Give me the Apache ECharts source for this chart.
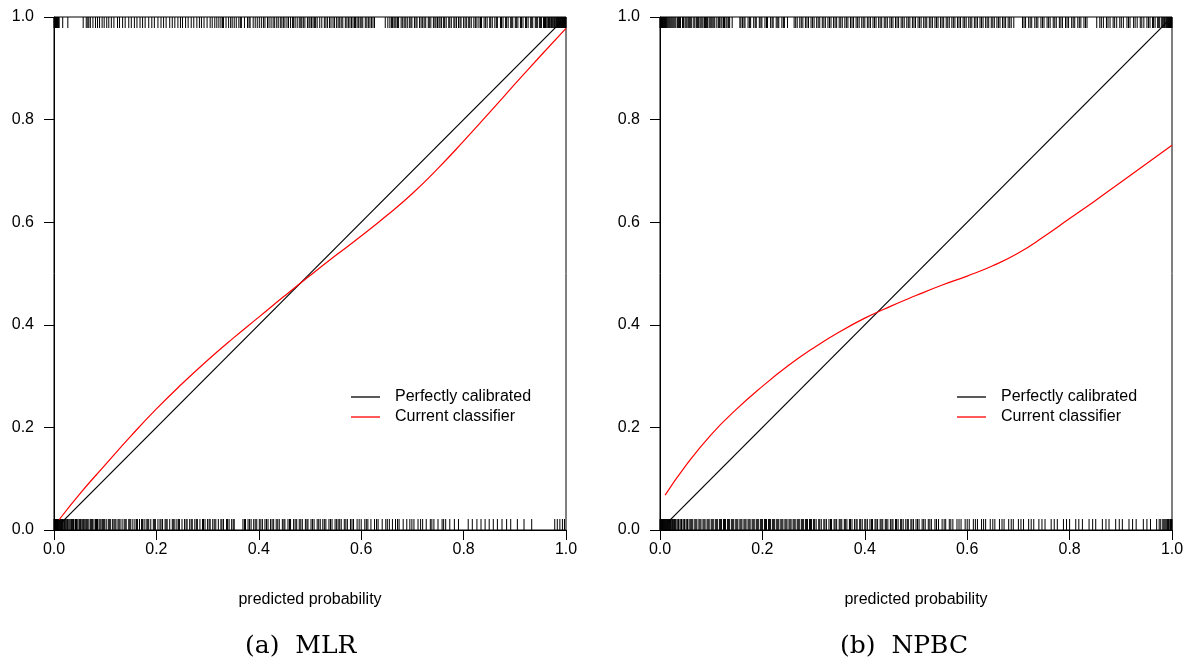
<!DOCTYPE html>
<html>
<head>
<meta charset="utf-8">
<script src="https://cdn.jsdelivr.net/npm/echarts@6/dist/echarts.min.js"></script>
<style>html,body{margin:0;padding:0;background:#fff;}#c{width:1191px;height:661px;}</style>
</head>
<body>
<div id="c"></div>
<script>
// ---- data ----
var xTicks = [0, 0.2, 0.4, 0.6, 0.8, 1.0];
var panelTitles = ['(a)  MLR', '(b)  NPBC'];
var legendNames = ['Perfectly calibrated', 'Current classifier'];

var mlrDiagonal = [[0.015, 0.015], [0.99, 0.99]];
var mlrCurve = [[0.01, 0.02], [0.05, 0.07], [0.1, 0.127], [0.15, 0.183], [0.2, 0.236], [0.25, 0.285], [0.3, 0.331],
  [0.35, 0.374], [0.4, 0.415], [0.45, 0.456], [0.5, 0.496], [0.55, 0.535], [0.6, 0.573], [0.65, 0.613],
  [0.7, 0.656], [0.75, 0.705], [0.8, 0.758], [0.85, 0.813], [0.9, 0.869], [0.95, 0.924], [1.0, 0.978]];

var npbcDiagonal = [[0.015, 0.015], [0.99, 0.99]];
var npbcCurve = [[0.01, 0.068], [0.05, 0.125], [0.1, 0.186], [0.15, 0.236], [0.2, 0.28], [0.25, 0.32], [0.3, 0.355],
  [0.35, 0.386], [0.4, 0.413], [0.45, 0.436], [0.5, 0.457], [0.55, 0.477], [0.6, 0.495], [0.65, 0.515],
  [0.7, 0.54], [0.75, 0.572], [0.8, 0.607], [0.85, 0.642], [0.9, 0.678], [0.95, 0.714], [1.0, 0.75]];

var mlrRugTop = [0.001,0.003,0.004,0.006,0.008,0.010,0.017,0.027,
  0.057,0.063,0.068,0.071,0.076,0.081,0.089,0.094,0.103,0.107,0.117,0.124,0.128,0.139,0.146,0.151,0.162,0.168,
  0.173,0.178,0.191,0.196,0.203,0.209,0.214,0.226,0.231,0.236,0.242,0.251,0.257,0.262,0.268,0.273,0.284,0.288,
  0.293,0.305,0.309,0.314,0.318,0.322,0.326,0.331,0.336,0.341,0.345,0.352,0.356,0.361,0.366,0.372,0.378,0.383,
  0.389,0.393,0.401,0.405,0.412,0.417,0.424,0.431,0.438,0.445,0.451,0.458,0.462,0.466,0.471,0.475,0.479,0.484,
  0.49,0.495,0.50,0.506,0.511,0.514,0.523,0.528,0.534,0.541,0.545,0.552,0.558,0.564,0.569,0.575,0.581,0.587,
  0.592,0.598,0.603,0.608,0.614,0.62,0.626,0.647,0.652,0.659,0.664,0.668,0.673,0.678,0.684,0.69,
  0.694,0.699,0.704,0.709,0.714,0.72,0.726,0.731,0.736,0.741,0.746,0.752,0.757,0.761,0.766,0.771,0.776,0.781,
  0.786,0.79,0.795,0.80,0.806,0.81,0.815,0.82,0.826,0.83,0.835,0.84,0.846,0.851,0.856,0.861,0.866,0.872,0.877,
  0.882,0.887,0.892,0.896,0.901,0.906,0.911,0.916,0.921,0.926,0.931,0.935,0.94,0.944,0.948,0.952,0.956,0.96,
  0.963,0.966,0.969,0.972,0.975,0.978,0.981,0.983,0.985,0.987,0.989,0.991,0.993,0.995,0.997,0.999,
  0.0,0.002,0.005,0.007,0.009,0.066,0.085,0.098,0.112,0.134,0.157,0.185,0.219,0.247,0.279,0.299,0.329,0.348,
  0.364,0.381,0.397,0.409,0.42,0.428,0.435,0.442,0.448,0.455,0.468,0.482,0.487,0.498,0.503,0.509,0.519,0.531,
  0.538,0.548,0.555,0.561,0.572,0.578,0.584,0.589,0.595,0.6,0.611,0.617,0.623,0.656,0.661,0.666,0.671,0.681,
  0.687,0.697,0.707,0.717,0.723,0.733,0.744,0.749,0.754,0.763,0.773,0.783,0.793,0.803,0.812,0.823,0.833,0.843,
  0.853,0.864,0.874,0.884,0.894,0.903,0.913,0.923,0.933,0.942,0.95,0.958,0.961,0.965,0.968,0.971,0.974,0.977,
  0.98,0.982,0.984,0.986,0.988,0.99,0.992,0.994,0.996,0.998,1.0];

var mlrRugBottom = [0.000,0.001,0.002,0.003,0.004,0.005,0.006,0.007,0.008,0.009,0.010,0.011,0.012,0.013,0.014,
  0.016,0.018,0.020,0.022,0.024,0.026,0.029,0.031,0.034,0.036,0.039,0.042,0.045,0.047,0.05,0.053,0.056,0.059,
  0.062,0.065,0.068,0.071,0.075,0.078,0.081,0.085,0.088,0.092,0.095,0.099,0.102,0.106,0.11,0.114,0.117,0.121,
  0.125,0.129,0.133,0.137,0.141,0.146,0.15,0.154,0.158,0.163,0.167,0.171,0.176,0.18,0.185,0.189,0.194,0.198,
  0.203,0.207,0.212,0.217,0.221,0.226,0.231,0.236,0.24,0.245,0.25,0.255,0.26,0.265,0.27,0.275,0.28,0.285,0.29,
  0.295,0.3,0.305,0.31,0.316,0.321,0.326,0.331,0.337,0.342,0.347,0.352,0.369,0.374,0.379,0.385,0.39,
  0.396,0.401,0.407,0.412,0.418,0.423,0.429,0.434,0.44,0.446,0.451,0.457,0.462,0.468,0.474,0.479,0.485,0.491,
  0.496,0.502,0.508,0.514,0.52,0.525,0.531,0.537,0.543,0.549,0.552,0.555,0.561,0.567,0.573,0.579,0.585,0.592,
  0.6,0.607,0.613,0.619,0.626,0.633,0.641,0.648,0.655,0.661,0.667,0.674,0.682,0.689,0.695,0.703,0.711,0.72,
  0.727,0.735,0.742,0.75,0.758,0.765,0.773,0.782,0.809,0.817,0.826,0.834,0.842,0.85,0.858,0.866,0.875,0.884,
  0.892,0.905,0.918,0.933,0.978,0.983,0.988,0.993,0.997,
  0.0025,0.0045,0.0065,0.015,0.017,0.021,0.027,0.033,0.038,0.044,0.052,0.058,0.064,0.073,0.083,0.09,0.097,
  0.108,0.119,0.127,0.139,0.148,0.161,0.173,0.183,0.196,0.209,0.219,0.233,0.243,0.258,0.268,0.278,0.292,0.303,
  0.313,0.328,0.339,0.35,0.372,0.382,0.393,0.404,0.415,0.426,0.437,0.449,0.46,0.471,0.482,0.494,0.505,0.517,
  0.528,0.54,0.558,0.57,0.582,0.596,0.61,0.63,0.651,0.671,0.699,0.716,0.738,0.761,0.79];

var npbcRugTop = [0.000,0.002,0.004,0.006,0.008,0.010,0.012,0.015,0.019,0.023,0.027,0.031,0.036,0.04,0.044,0.049,
  0.053,0.058,0.062,0.066,0.071,0.075,0.08,0.084,0.089,0.093,0.098,0.102,0.107,0.111,0.116,0.121,0.126,0.131,
  0.136,0.141,0.156,0.161,0.166,0.172,0.177,0.183,0.188,0.194,0.199,0.205,0.21,0.216,0.221,0.227,0.232,0.238,
  0.243,0.249,0.262,0.268,0.273,0.279,0.284,0.29,0.295,0.301,0.306,0.312,0.317,0.323,0.328,0.334,0.339,0.345,
  0.35,0.356,0.361,0.367,0.372,0.378,0.383,0.389,0.394,0.4,0.405,0.411,0.416,0.422,0.427,0.433,0.438,0.444,
  0.449,0.455,0.46,0.466,0.471,0.477,0.482,0.488,0.493,0.499,0.504,0.51,0.515,0.521,0.526,0.532,0.537,0.543,
  0.548,0.554,0.559,0.565,0.57,0.576,0.581,0.587,0.592,0.598,0.603,0.609,0.614,0.62,0.625,0.631,0.636,0.642,
  0.647,0.653,0.658,0.664,0.669,0.675,0.68,0.686,0.691,0.708,0.714,0.72,0.726,0.732,0.738,0.744,0.75,0.756,
  0.762,0.768,0.774,0.78,0.786,0.792,0.798,0.804,0.81,0.816,0.822,0.828,0.834,0.853,0.859,0.866,0.872,0.879,
  0.885,0.892,0.898,0.905,0.912,0.918,0.925,0.932,0.938,0.945,0.951,0.957,0.962,0.967,0.972,0.976,0.98,0.983,
  0.986,0.989,0.992,0.994,0.996,0.998,1.0,
  0.001,0.003,0.005,0.007,0.009,0.011,0.013,0.017,0.021,0.025,0.029,0.034,0.038,0.046,0.051,0.056,0.06,0.068,
  0.073,0.078,0.082,0.087,0.091,0.096,0.1,0.105,0.114,0.119,0.124,0.129,0.134,0.158,0.164,0.175,0.186,0.197,
  0.208,0.219,0.23,0.241,0.265,0.276,0.287,0.298,0.309,0.32,0.331,0.342,0.353,0.364,0.375,0.386,0.397,0.408,
  0.419,0.43,0.441,0.452,0.463,0.474,0.485,0.496,0.507,0.518,0.529,0.54,0.551,0.562,0.573,0.584,0.595,0.606,
  0.617,0.628,0.639,0.65,0.661,0.672,0.683,0.711,0.723,0.735,0.747,0.759,0.771,0.783,0.795,0.807,0.819,0.831,
  0.862,0.875,0.888,0.901,0.915,0.928,0.941,0.954,0.964,0.974,0.981,0.985,0.988,0.991,0.993,0.995,0.997,0.999];

var npbcRugBottom = [0.000,0.001,0.002,0.003,0.004,0.005,0.006,0.007,0.008,0.009,0.010,0.011,0.012,0.013,0.014,
  0.015,0.016,0.017,0.018,0.019,0.020,0.022,0.024,0.026,0.028,0.030,0.033,0.036,0.039,0.042,0.045,0.048,0.051,
  0.054,0.057,0.06,0.064,0.068,0.072,0.076,0.08,0.084,0.088,0.092,0.096,0.1,0.104,0.108,0.112,0.116,0.12,0.124,
  0.128,0.132,0.136,0.14,0.144,0.148,0.152,0.156,0.16,0.164,0.168,0.172,0.176,0.18,0.184,0.188,0.192,0.196,0.2,
  0.204,0.208,0.212,0.216,0.22,0.224,0.228,0.232,0.236,0.24,0.244,0.248,0.252,0.256,0.26,0.264,0.268,0.272,
  0.276,0.28,0.284,0.288,0.292,0.296,0.3,0.305,0.31,0.315,0.32,0.325,0.33,0.335,0.34,0.345,0.35,0.355,0.36,
  0.365,0.37,0.375,0.38,0.385,0.39,0.395,0.4,0.405,0.41,0.415,0.42,0.425,0.43,0.435,0.44,0.445,0.45,0.455,
  0.46,0.465,0.47,0.475,0.48,0.485,0.49,0.495,0.5,0.506,0.512,0.518,0.524,0.53,0.537,0.544,0.551,0.558,0.565,
  0.572,0.58,0.588,0.596,0.604,0.612,0.62,0.628,0.636,0.645,0.654,0.663,0.672,0.681,0.69,0.7,0.71,0.72,0.73,
  0.74,0.752,0.764,0.776,0.788,0.8,0.812,0.825,0.838,0.851,0.864,0.877,0.89,0.903,0.916,0.93,0.944,0.958,0.97,
  0.978,0.984,0.988,0.991,0.994,0.996,0.998,1.0,
  0.021,0.025,0.029,0.035,0.041,0.047,0.053,0.062,0.07,0.078,0.086,0.094,0.102,0.11,0.118,0.126,0.134,0.142,
  0.15,0.158,0.166,0.174,0.182,0.19,0.198,0.206,0.214,0.222,0.23,0.238,0.246,0.254,0.262,0.27,0.278,0.286,
  0.294,0.302,0.312,0.322,0.333,0.342,0.352,0.362,0.372,0.383,0.392,0.402,0.413,0.422,0.432,0.442,0.453,0.462,
  0.472,0.483,0.492,0.503,0.515,0.527,0.54,0.555,0.568,0.584,0.6,0.616,0.632,0.65,0.668,0.686,0.705,0.725,
  0.746,0.77,0.794,0.818,0.845,0.871,0.897,0.923,0.951,0.975,0.982,0.986,0.99,0.993,0.997,0.999];

// ---- chart ----
var chart = echarts.init(document.getElementById('c'), null, {renderer: 'canvas'});
var FONT = 'Liberation Sans, Arial, Helvetica, sans-serif';
var grids = [
  {left: 54, top: 17, width: 512, height: 513},
  {left: 660, top: 17, width: 512, height: 513}
];
function xAxis(i) {
  return {
    gridIndex: i, type: 'value', min: 0, max: 1, interval: 0.2,
    name: 'predicted probability', nameLocation: 'middle', nameGap: 62,
    nameTextStyle: {fontFamily: FONT, fontSize: 16, color: '#000'},
    axisLine: {show: true, onZero: false, lineStyle: {color: '#000', width: 1}},
    axisTick: {show: true, length: 10, inside: false, lineStyle: {color: '#000'}},
    axisLabel: {fontFamily: FONT, fontSize: 16, color: '#000', margin: 12,
      formatter: function (v) { return v.toFixed(1); }},
    splitLine: {show: false}
  };
}
function yAxis(i) {
  return {
    gridIndex: i, type: 'value', min: 0, max: 1, interval: 0.2,
    axisLine: {show: true, onZero: false, lineStyle: {color: '#000', width: 1}},
    axisTick: {show: true, length: 10, inside: false, lineStyle: {color: '#000'}},
    axisLabel: {fontFamily: FONT, fontSize: 16, color: '#000', margin: 20,
      formatter: function (v) { return v.toFixed(1); }},
    splitLine: {show: false}
  };
}
function rug(i, vals, top) {
  return {
    type: 'scatter', xAxisIndex: i, yAxisIndex: i, silent: true,
    symbol: 'rect', symbolSize: [1, 11], symbolOffset: [0, top ? 5.5 : -5.5],
    itemStyle: {color: '#000', opacity: 1},
    data: vals.map(function (v) { return [v, top ? 1 : 0]; }), z: 1
  };
}
function line(i, name, data, color, smooth) {
  return {
    type: 'line', name: name, xAxisIndex: i, yAxisIndex: i, data: data,
    smooth: smooth, showSymbol: false, symbol: 'none', silent: true,
    lineStyle: {color: color, width: 1.2}, itemStyle: {color: color}, z: 3
  };
}
function legend(left) {
  return {
    data: legendNames, orient: 'vertical', left: left, top: 388, itemGap: 2, padding: 0,
    icon: 'rect', itemWidth: 29, itemHeight: 1.3, selectedMode: false,
    textStyle: {fontFamily: FONT, fontSize: 16, color: '#000', lineHeight: 18, padding: [0, 0, 0, 10]}
  };
}
chart.setOption({
  animation: false,
  backgroundColor: '#fff',
  grid: grids.map(function (g) { return Object.assign({show: true, borderColor: '#000', borderWidth: 1, backgroundColor: 'transparent'}, g); }),
  xAxis: [xAxis(0), xAxis(1)],
  yAxis: [yAxis(0), yAxis(1)],
  legend: [legend(351), legend(957)],
  graphic: [
    {type: 'text', left: 245, top: 634, style: {text: panelTitles[0], font: '25px "DejaVu Serif", serif', fill: '#000'}},
    {type: 'text', left: 840, top: 634, style: {text: panelTitles[1], font: '25px "DejaVu Serif", serif', fill: '#000'}}
  ],
  series: [
    rug(0, mlrRugTop, true), rug(0, mlrRugBottom, false),
    rug(1, npbcRugTop, true), rug(1, npbcRugBottom, false),
    line(0, legendNames[0], mlrDiagonal, '#000', false),
    line(0, legendNames[1], mlrCurve, '#ff0000', true),
    line(1, legendNames[0], npbcDiagonal, '#000', false),
    line(1, legendNames[1], npbcCurve, '#ff0000', true)
  ]
});
</script>
</body>
</html>
